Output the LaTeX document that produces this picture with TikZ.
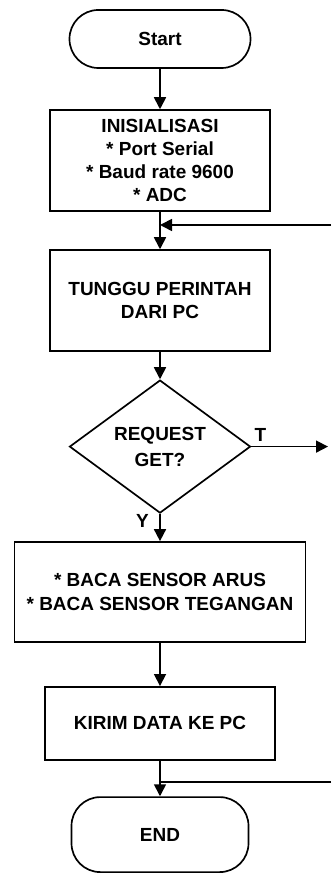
\documentclass[tikz,border=0pt]{standalone}
\usepackage{fontspec}
\setmainfont{Liberation Sans}
\usetikzlibrary{arrows.meta,shapes.geometric}

\begin{document}
\begin{tikzpicture}[>={Triangle[length=3mm,width=3mm]},line width=1.2pt,
  font=\fontsize{13.5}{16.5}\selectfont\bfseries,
  term/.style={draw,rectangle,rounded corners=0.72cm,minimum height=1.45cm},
  proc/.style={draw,rectangle,align=center,inner sep=2pt},
  cond/.style={draw,diamond,aspect=1.36,inner sep=0pt,align=center,
    minimum width=4.525cm,minimum height=3.325cm}]
\useasboundingbox (0,0) rectangle (8.275,21.825);
\node[term,minimum width=4.525cm] (start) at (4,20.85) {Start};
\node[proc,minimum width=5.5cm,minimum height=2.525cm] (init) at (4,17.81)
  {INISIALISASI\\* Port Serial\\* Baud rate 9600\\* ADC};
\node[proc,minimum width=5.5cm,minimum height=2.525cm] (wait) at (4,14.31)
  {TUNGGU PERINTAH\\DARI PC};
\node[cond] (req) at (4,10.66) {REQUEST\\[2pt]GET?};
\node[proc,minimum width=7.275cm,minimum height=2.5cm] (read) at (4,7.025)
  {* BACA SENSOR ARUS\\* BACA SENSOR TEGANGAN};
\node[proc,minimum width=5.75cm,minimum height=1.825cm] (send) at (4,3.74)
  {KIRIM DATA KE PC};
\node[term,minimum width=4.425cm,minimum height=1.875cm] (stop) at (4,0.96) {END};
\coordinate (j1) at (4,16.2);
\coordinate (r1) at (8.275,16.2);
\coordinate (j2) at (4,2.275);
\coordinate (r2) at (8.275,2.275);
\coordinate (out) at (8.2,10.66);
% connectors
\draw[->] (start) -- (init);
\draw (init) -- (j1);
\draw[->] (j1) -- (wait);
\draw[->] (r1) -- (j1);
\draw[->] (wait) -- (req);
\draw[->] (req) -- (read) node[pos=0.25,left=4pt] (y) {Y};
\draw[->] (req.east) -- (out) node[pos=0.12,above] (t) {T};
\draw[->] (read) -- (send);
\draw (send) -- (j2);
\draw[->] (j2) -- (stop);
\draw (r2) -- (j2);
\end{tikzpicture}
\end{document}
